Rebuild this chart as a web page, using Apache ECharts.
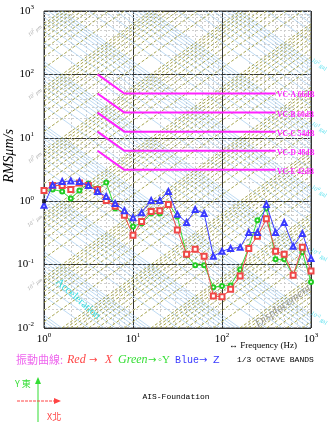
<!DOCTYPE html>
<html><head><meta charset="utf-8">
<script src="https://cdn.jsdelivr.net/npm/echarts@6/dist/echarts.min.js"></script>
<style>html,body{margin:0;padding:0;background:#fff}#c{width:330px;height:429px}</style>
</head><body><div id="c"></div>
<script>
// 1/3 octave band centre frequencies (Hz)
const freqs = [1,1.25,1.6,2,2.5,3.15,4,5,6.3,8,10,12.5,16,20,25,31.5,40,50,63,80,100,125,160,200,250,315,400,500,630,800,1000];
// RMS velocity (um/s)
const redX   = [1.47,1.77,1.77,1.53,1.93,1.77,1.53,1.03,0.83,0.60,0.29,0.48,0.69,0.71,0.89,0.35,0.145,0.174,0.135,0.032,0.031,0.041,0.066,0.18,0.28,0.53,0.162,0.145,0.068,0.187,0.079];
const greenY = [1.47,1.53,1.42,1.10,1.47,1.90,1.58,1.97,0.77,0.66,0.40,0.45,0.64,0.64,0.92,0.575,0.14,0.098,0.098,0.044,0.046,0.047,0.084,0.187,0.50,0.77,0.121,0.121,0.068,0.156,0.053];
const blueZ  = [0.86,1.80,2.04,2.08,2.04,1.77,1.42,1.19,0.92,0.71,0.55,0.66,1.03,1.03,1.42,0.62,0.46,0.74,0.64,0.135,0.162,0.18,0.187,0.32,0.32,0.89,0.32,0.46,0.194,0.31,0.125];
const refPoint = [[1, 1]];
// vibration criteria
const vcNames  = ['VC-A 66dB','VC-B 60dB','VC-C 54dB','VC-D 48dB','VC-E 42dB'];
const vcLevels = [50, 25, 12.5, 6.25, 3.125];
const vcFreqs  = [4, 8, 400];
// ticks / label exponents
const xTickExps = [0, 1, 2, 3];
const yTickExps = [-2, -1, 0, 1, 2, 3];
const dispLabelExps = [2, 1, 0, -1, -2];   // um
const accLabelExps  = [2, 1, 0, -1, -2];   // gal

const X0 = 1, X1 = 1000, Y0 = 0.01, Y1 = 1000;
function seg(c, p) { // v = c * f^p clipped to box
  const fa = Math.pow(Y0 / c, 1 / p), fb = Math.pow(Y1 / c, 1 / p);
  const lo = Math.max(X0, Math.min(fa, fb)), hi = Math.min(X1, Math.max(fa, fb));
  if (!(lo < hi * 0.9999)) return null;
  return [[lo, c * Math.pow(lo, p)], [hi, c * Math.pow(hi, p)]];
}
const dispLines = [], accLines = [], minorLines = [];
for (let k = -8; k <= 3; k++) for (let m = 1; m <= 9; m++) {
  const d = m * Math.pow(10, k);
  const s1 = seg(2 * Math.PI * d, 1); if (s1) dispLines.push({coords: s1});
  const s2 = seg(d * 1e4 / (2 * Math.PI), -1); if (s2) accLines.push({coords: s2});
}
for (let k = 0; k <= 2; k++) for (let m = 2; m <= 9; m++) {
  const f = m * Math.pow(10, k); minorLines.push({coords: [[f, Y0], [f, Y1]]});
}
for (let k = -2; k <= 2; k++) for (let m = 2; m <= 9; m++) {
  const v = m * Math.pow(10, k); minorLines.push({coords: [[X0, v], [X1, v]]});
}

const supFmt = v => '{b|10}{s|' + Math.round(Math.log10(v)) + '}';
const rich = {
  b: {fontFamily: 'Liberation Serif', fontSize: 11, color: '#000'},
  s: {fontFamily: 'Liberation Serif', fontSize: 7, color: '#000', padding: [0, 0, 7, 0]}
};
const chart = echarts.init(document.getElementById('c'), null, {renderer: 'canvas'});
const series = [
  {type: 'lines', coordinateSystem: 'cartesian2d', polyline: false, silent: true, z: 1,
   lineStyle: {color: '#cfcfcf', width: 1, type: [2, 2], opacity: 1}, data: minorLines},
  {type: 'lines', coordinateSystem: 'cartesian2d', silent: true, z: 2,
   lineStyle: {color: '#a6cdee', width: 0.8, type: 'solid', opacity: 0.9}, data: accLines},
  {type: 'lines', coordinateSystem: 'cartesian2d', silent: true, z: 3,
   lineStyle: {color: '#9c9a3a', width: 1, type: [3, 2], opacity: 0.9}, data: dispLines}
];
vcLevels.forEach((L, i) => {
  series.push({type: 'line', name: vcNames[i], silent: true, z: 5, symbol: 'none',
    lineStyle: {color: '#ff22ff', width: 2},
    data: vcFreqs.map(f => [f, f < vcFreqs[1] ? L * vcFreqs[1] / f : L])});
});
series.push(
  {type: 'line', name: 'X', z: 8, data: freqs.map((f, i) => [f, redX[i]]), symbol: 'emptyRect', symbolSize: 5,
   lineStyle: {color: '#f04848', width: 1}, itemStyle: {color: '#f04848', borderWidth: 1}},
  {type: 'line', name: 'Y', z: 7, data: freqs.map((f, i) => [f, greenY[i]]), symbol: 'emptyCircle', symbolSize: 4,
   lineStyle: {color: '#33dd33', width: 1}, itemStyle: {color: '#22cc22', borderWidth: 1.5}},
  {type: 'line', name: 'Z', z: 9, data: freqs.map((f, i) => [f, blueZ[i]]), symbol: 'emptyTriangle', symbolSize: 5,
   lineStyle: {color: '#3a3aff', width: 1}, itemStyle: {color: '#3a3aff', borderWidth: 1}},
  {type: 'scatter', z: 10, data: refPoint, symbol: 'rect', symbolSize: 4, itemStyle: {color: '#111'}}
);

chart.setOption({
  animation: false,
  backgroundColor: '#fff',
  grid: {left: 44, right: 19, top: 11, bottom: 101, show: true, borderColor: '#333', borderWidth: 1, backgroundColor: '#fff'},
  xAxis: {type: 'log', logBase: 10, min: X0, max: X1,
    axisLine: {show: false}, axisTick: {show: false},
    splitLine: {show: true, lineStyle: {color: '#333', width: 1}},
    axisLabel: {formatter: supFmt, rich: rich, margin: 4, showMinLabel: true, showMaxLabel: true}},
  yAxis: {type: 'log', logBase: 10, min: Y0, max: Y1,
    axisLine: {show: false}, axisTick: {show: false},
    splitLine: {show: true, lineStyle: {color: '#333', width: 1}},
    axisLabel: {formatter: supFmt, rich: rich, margin: 10, showMinLabel: true, showMaxLabel: true}},
  series: series
});

const px = (f, v) => chart.convertToPixel({gridIndex: 0}, [f, v]);
const g = [];
// y axis title
g.push({type: 'text', x: 9, y: 156, rotation: Math.PI / 2,
  style: {text: 'RMSμm/s', font: 'italic 14px "Liberation Serif"', fill: '#000', align: 'center', verticalAlign: 'middle'}});
// displacement labels (left)
dispLabelExps.forEach(k => {
  const p = px(1, 2 * Math.PI * Math.pow(10, k));
  g.push({type: 'text', x: 35, y: p[1] + 7, rotation: 0.6, z: 20,
    style: {text: '{a|10}{e|' + k + '}{a| μm}', align: 'center', verticalAlign: 'middle',
      rich: {a: {fontFamily: 'Liberation Serif', fontStyle: 'italic', fontSize: 5.5, fill: '#a8a8a8'},
             e: {fontFamily: 'Liberation Serif', fontSize: 4, fill: '#a8a8a8', padding: [0, 0, 4, 0]}}}});
});
// acceleration labels (right)
accLabelExps.forEach(k => {
  const p = px(1000, Math.pow(10, k) * 1e4 / (2 * Math.PI * 1000));
  g.push({type: 'text', x: 319, y: p[1] + 3, rotation: -0.62, z: 20,
    style: {text: '{a|10}{e|' + k + '}{a| gal}', align: 'center', verticalAlign: 'middle',
      rich: {a: {fontFamily: 'Liberation Serif', fontSize: 6, fill: '#55e0ee'},
             e: {fontFamily: 'Liberation Serif', fontSize: 4.5, fill: '#55e0ee', padding: [0, 0, 4, 0]}}}});
});
// VC labels
vcLevels.forEach((L, i) => {
  const p = px(vcFreqs[2], L);
  g.push({type: 'text', x: p[0] + 1.5, y: p[1] + 2, z: 20,
    style: {text: vcNames[i], font: 'bold 7.5px "Liberation Serif"', fill: '#ff22ff', align: 'left', verticalAlign: 'middle'}});
});
// region names
g.push({type: 'text', x: 78, y: 299, rotation: -0.72, z: 20,
  style: {text: 'Acceleration', font: '11px "Liberation Serif"', fill: '#33dde0', align: 'center', verticalAlign: 'middle'}});
g.push({type: 'text', x: 283, y: 306, rotation: 0.62, z: 20,
  style: {text: 'Displacement', font: 'italic 12px "Liberation Serif"', fill: '#9a9a9a', align: 'center', verticalAlign: 'middle'}});
// frequency label
g.push({type: 'text', x: 229, y: 346, style: {text: '↔ Frequency (Hz)', font: '9px "Liberation Serif"', fill: '#000', verticalAlign: 'middle'}});
// legend line
const ly = 360;
const items = [
  ['振動曲線:', 16, '11px "Noto Sans CJK TC"', '#ee66ee'],
  ['Red', 67, 'italic 12px "Liberation Serif"', '#ff4444'],
  ['→', 89, '10px "DejaVu Sans"', '#ff4444'],
  ['X', 105, 'italic 12px "Liberation Serif"', '#ff4444'],
  ['Green', 118, 'italic 12px "Liberation Serif"', '#33dd33'],
  ['→', 148, '10px "DejaVu Sans"', '#33dd33'],
  ['◦Y', 158, '11px "Liberation Serif"', '#33dd33'],
  ['Blue', 175, '10px "Liberation Mono"', '#3a3aff'],
  ['→', 199, '10px "DejaVu Sans"', '#3a3aff'],
  ['Z', 213, '11px "Liberation Mono"', '#3a3aff'],
  ['1/3 OCTAVE BANDS', 237, '8px "Liberation Mono"', '#000']
];
items.forEach(t => g.push({type: 'text', x: t[1], y: ly, style: {text: t[0], font: t[2], fill: t[3], verticalAlign: 'middle'}}));
// axis direction symbol
g.push({type: 'line', shape: {x1: 38, y1: 422, x2: 38, y2: 381}, style: {stroke: '#33dd33', lineWidth: 1}});
g.push({type: 'polygon', shape: {points: [[38, 377], [35, 384], [41, 384]]}, style: {fill: '#33dd33'}});
g.push({type: 'line', shape: {x1: 17, y1: 401, x2: 57, y2: 401}, style: {stroke: '#ff4444', lineWidth: 1, lineDash: [3, 1]}});
g.push({type: 'polygon', shape: {points: [[61, 401], [54, 398], [54, 404]]}, style: {fill: '#ff4444'}});
g.push({type: 'text', x: 15, y: 384, style: {text: 'Y 東', font: '9px "Noto Sans CJK TC"', fill: '#33dd33', verticalAlign: 'middle'}});
g.push({type: 'text', x: 47, y: 417, style: {text: 'X北', font: '9px "Noto Sans CJK TC"', fill: '#ff4444', verticalAlign: 'middle'}});
g.push({type: 'text', x: 176, y: 397, style: {text: 'AIS-Foundation', font: '8px "Liberation Mono"', fill: '#000', align: 'center', verticalAlign: 'middle'}});
chart.setOption({graphic: g});
</script></body></html>
